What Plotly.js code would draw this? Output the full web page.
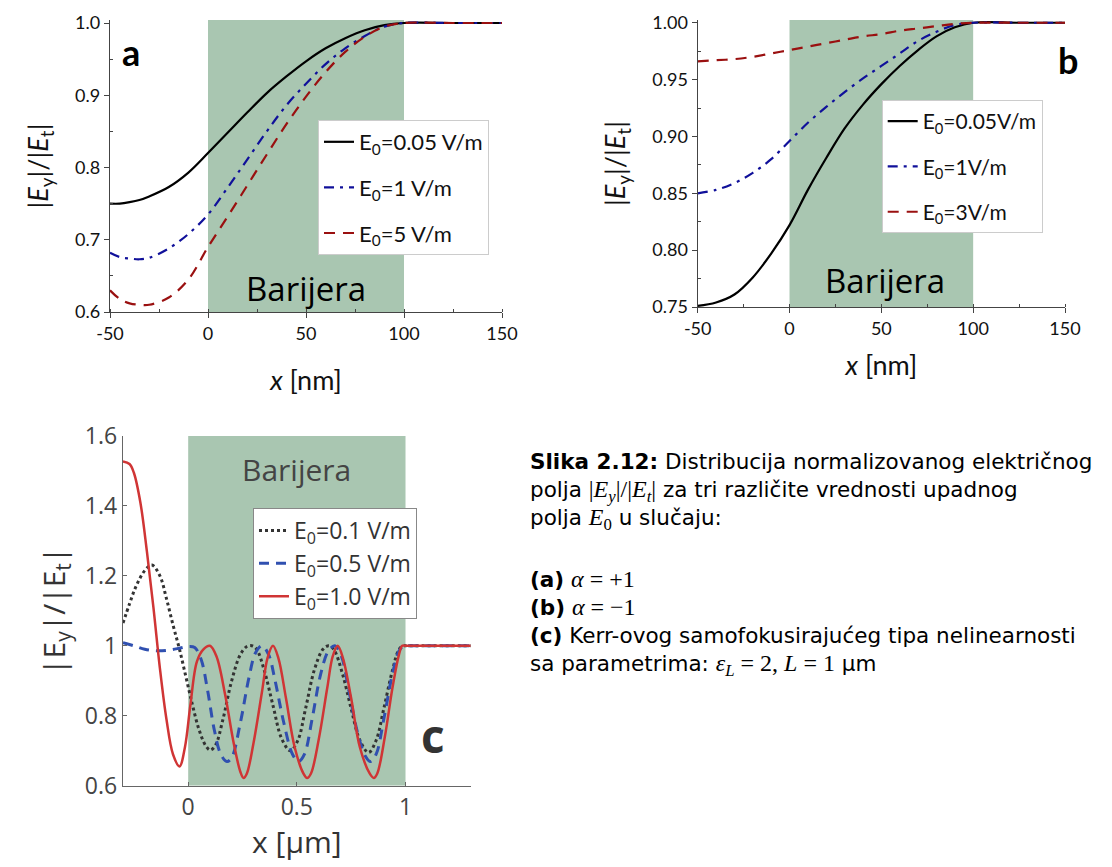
<!DOCTYPE html>
<html><head><meta charset="utf-8">
<script src="https://cdn.plot.ly/plotly-3.0.1.min.js"></script>
<style>html,body{margin:0;padding:0;background:#fff}</style>
</head><body><div id="chart" style="width:1112px;height:867px"></div>
<script>
// ---------- Panel a (alpha = +1) ----------
const xA = [-50,-45,-40,-35,-30,-20,-10,0,10,20,30,40,50,60,70,80,90,100,125,150];
const aBlack = [0.750,0.750,0.752,0.755,0.760,0.773,0.793,0.820,0.848,0.876,0.903,0.926,0.947,0.965,0.979,0.990,0.997,1.000,1.000,1.000];
const aBlue  = [0.682,0.676,0.674,0.673,0.675,0.688,0.708,0.735,0.772,0.811,0.850,0.886,0.916,0.943,0.965,0.982,0.995,1.000,1.000,1.000];
const aRed   = [0.630,0.618,0.612,0.610,0.610,0.620,0.645,0.690,0.732,0.775,0.818,0.860,0.898,0.932,0.960,0.981,0.995,1.000,1.000,1.000];
const aNames = ["E<sub>0</sub>=0.05 V/m","E<sub>0</sub>=1 V/m","E<sub>0</sub>=5 V/m"];

// ---------- Panel b (alpha = -1) ----------
const xB = [-50,-40,-30,-20,-10,0,10,20,30,40,50,60,70,80,90,100,125,150];
const bBlack = [0.751,0.754,0.761,0.776,0.797,0.822,0.853,0.881,0.907,0.928,0.946,0.962,0.976,0.988,0.996,1.000,1.000,1.000];
const bBlue  = [0.850,0.853,0.859,0.868,0.880,0.896,0.912,0.926,0.939,0.951,0.962,0.973,0.984,0.992,0.998,1.000,1.000,1.000];
const bRed   = [0.966,0.967,0.968,0.970,0.973,0.976,0.979,0.982,0.985,0.988,0.990,0.993,0.995,0.997,0.999,1.000,1.000,1.000];
const bNames = ["E<sub>0</sub>=0.05V/m","E<sub>0</sub>=1V/m","E<sub>0</sub>=3V/m"];

// ---------- Panel c (Kerr, eps_L = 2, L = 1 um) ----------
const xC1 = [-0.3,-0.27,-0.24,-0.2,-0.167,-0.13,-0.1,-0.07,-0.04,-0.01,0.02,0.05,0.08,0.101,0.125,0.16,0.2,0.24,0.27,0.293,0.315,0.35,0.39,0.43,0.47,0.505,0.54,0.58,0.62,0.647,0.67,0.71,0.75,0.79,0.83,0.865,0.9,0.94,0.97,0.99,1.0,1.3];
const cBlack = [1.065,1.12,1.17,1.215,1.231,1.2,1.135,1.06,0.99,0.91,0.83,0.76,0.715,0.702,0.715,0.79,0.9,0.975,0.998,1.0,0.99,0.93,0.83,0.735,0.70,0.73,0.82,0.93,0.99,1.0,0.99,0.92,0.82,0.73,0.695,0.73,0.82,0.93,0.99,1.0,1.0,1.0];
const xC2 = [-0.3,-0.25,-0.2,-0.15,-0.1,-0.05,0.0,0.03,0.06,0.09,0.12,0.15,0.178,0.2,0.24,0.28,0.31,0.34,0.37,0.4,0.44,0.48,0.508,0.535,0.57,0.61,0.645,0.675,0.705,0.74,0.78,0.815,0.839,0.865,0.9,0.94,0.97,0.99,1.0,1.3];
const cBlue = [1.009,1.0,0.99,0.986,0.987,0.992,0.998,0.995,0.96,0.87,0.76,0.69,0.669,0.68,0.78,0.91,0.98,1.0,0.975,0.9,0.78,0.69,0.669,0.69,0.79,0.92,0.985,1.0,0.97,0.87,0.75,0.685,0.669,0.69,0.79,0.92,0.985,1.0,1.0,1.0];
const xC3 = [-0.3,-0.27,-0.25,-0.22,-0.19,-0.16,-0.13,-0.1,-0.07,-0.04,-0.015,0.01,0.04,0.07,0.1,0.13,0.17,0.21,0.24,0.255,0.27,0.3,0.34,0.365,0.39,0.415,0.45,0.49,0.53,0.547,0.565,0.6,0.64,0.665,0.688,0.712,0.75,0.79,0.835,0.854,0.87,0.905,0.94,0.97,0.985,1.0,1.3];
const cRed = [1.527,1.52,1.495,1.41,1.27,1.11,0.935,0.79,0.69,0.655,0.71,0.83,0.955,0.99,1.0,0.97,0.86,0.72,0.64,0.622,0.635,0.72,0.87,0.965,1.0,0.965,0.85,0.71,0.635,0.622,0.635,0.73,0.88,0.97,1.0,0.965,0.85,0.71,0.635,0.622,0.635,0.74,0.88,0.975,1.0,1.0,1.0];
const cNames = ["E<sub>0</sub>=0.1 V/m","E<sub>0</sub>=0.5 V/m","E<sub>0</sub>=1.0 V/m"];

const M = s => "<span style=\"font-family:'Liberation Serif','DejaVu Serif',serif;font-size:24px\">" + s + "</span>";
const captionTop = [
  "<b>Slika 2.12:</b> Distribucija normalizovanog električnog",
  "polja " + M("|<i>E<sub>y</sub></i>|/|<i>E<sub>t</sub></i>|") + " za tri različite vrednosti upadnog",
  "polja " + M("<i>E</i><sub>0</sub>") + " u slučaju:"
];
const captionBottom = [
  "<b>(a)</b> " + M("<i>α</i> = +1"),
  "<b>(b)</b> " + M("<i>α</i> = −1"),
  "<b>(c)</b> Kerr-ovog samofokusirajućeg tipa nelinearnosti",
  "sa parametrima: " + M("<i>ε<sub>L</sub></i> = 2, <i>L</i> = 1") + " μm"
];

// ---------- helpers (pixel -> paper) ----------
const W = 1112, H = 867;
const px = v => v / W;
const py = v => 1 - v / H;
const FONT = "Lato, 'Open Sans', sans-serif";
const FONTO = "'Open Sans', 'Noto Sans', sans-serif";
const FONTCAP = "'DejaVu Sans', 'Open Sans', sans-serif";
const SHADE = "#a9c6b1";

function tr(x, y, name, color, dash, width, xa, ya, leg, grp) {
  return {x: x, y: y, name: name, type: "scatter", mode: "lines",
    line: {color: color, dash: dash, width: width, shape: "spline", smoothing: 1},
    xaxis: xa, yaxis: ya, legend: leg, legendgroup: grp, hoverinfo: "skip"};
}

const data = [
  tr(xA, aBlack, aNames[0], "#000000", "solid", 2.2, "x", "y", "legend", "a1"),
  tr(xA, aBlue,  aNames[1], "#10109a", "10px,6px,3px,6px", 2.2, "x", "y", "legend", "a2"),
  tr(xA, aRed,   aNames[2], "#9a1010", "11px,8px", 2.2, "x", "y", "legend", "a3"),
  tr(xB, bBlack, bNames[0], "#000000", "solid", 2.2, "x2", "y2", "legend2", "b1"),
  tr(xB, bBlue,  bNames[1], "#10109a", "10px,6px,3px,6px", 2.2, "x2", "y2", "legend2", "b2"),
  tr(xB, bRed,   bNames[2], "#9a1010", "11px,8px", 2.2, "x2", "y2", "legend2", "b3"),
  tr(xC1, cBlack, cNames[0], "#333333", "dot", 3, "x3", "y3", "legend3", "c1"),
  tr(xC2, cBlue,  cNames[1], "#3050b0", "10px,7px", 3, "x3", "y3", "legend3", "c2"),
  tr(xC3, cRed,   cNames[2], "#d03535", "solid", 2.5, "x3", "y3", "legend3", "c3")
];

const axAB = {showline: true, linecolor: "#444", linewidth: 1.2, showgrid: false, zeroline: false,
  ticks: "outside", ticklen: 5, tickcolor: "#444", tickfont: {family: FONT, size: 18, color: "#111"}};
const axC = {showline: true, linecolor: "#666", linewidth: 1.2, showgrid: false, zeroline: false,
  ticks: "inside", ticklen: 4, tickcolor: "#666", tickfont: {family: FONTO, size: 23, color: "#444"}};

const yTitleAB = "|<i>E</i><sub>y</sub>|/|<i>E</i><sub>t</sub>|";
const xTicksAB = ["-50", "0", "50", "100", "150"];

const legBase = {xanchor: "left", yanchor: "top", bgcolor: "#fff", borderwidth: 1,
  traceorder: "grouped", itemwidth: 30};

const layout = {
  width: W, height: H, margin: {l: 0, r: 0, t: 0, b: 0},
  paper_bgcolor: "#fff", plot_bgcolor: "rgba(0,0,0,0)",
  xaxis: Object.assign({}, axAB, {domain: [px(110), px(502)], range: [-50, 150], anchor: "y",
    tickvals: [-50, 0, 50, 100, 150], ticktext: xTicksAB, minor: {dtick: 25, ticks: "inside", ticklen: 3, tickcolor: "#444"},
    title: {text: "<i>x</i> [nm]", font: {family: FONT, size: 27, color: "#111"}, standoff: 28}}),
  yaxis: Object.assign({}, axAB, {domain: [py(312), py(20)], range: [0.6, 1.00415], anchor: "x",
    tickvals: [0.6, 0.7, 0.8, 0.9, 1.0], ticktext: ["0.6", "0.7", "0.8", "0.9", "1.0"],
    minor: {tickvals: [0.65, 0.75, 0.85, 0.95], ticks: "inside", ticklen: 3, tickcolor: "#444"},
    title: {text: yTitleAB, font: {family: FONT, size: 27, color: "#111"}, standoff: 18}}),
  xaxis2: Object.assign({}, axAB, {domain: [px(697.7), px(1065)], range: [-50, 150], anchor: "y2",
    tickvals: [-50, 0, 50, 100, 150], ticktext: xTicksAB, minor: {dtick: 25, ticks: "inside", ticklen: 3, tickcolor: "#444"},
    title: {text: "<i>x</i> [nm]", font: {family: FONT, size: 27, color: "#111"}, standoff: 18}}),
  yaxis2: Object.assign({}, axAB, {domain: [py(307), py(20)], range: [0.75, 1.0024], anchor: "x2",
    tickvals: [0.75, 0.80, 0.85, 0.90, 0.95, 1.00], ticktext: ["0.75", "0.80", "0.85", "0.90", "0.95", "1.00"],
    minor: {tickvals: [0.775, 0.825, 0.875, 0.925, 0.975], ticks: "inside", ticklen: 3, tickcolor: "#444"},
    title: {text: yTitleAB, font: {family: FONT, size: 27, color: "#111"}, standoff: 18}}),
  xaxis3: Object.assign({}, axC, {domain: [px(123), px(470.7)], range: [-0.3, 1.3], anchor: "y3",
    tickvals: [0, 0.5, 1], ticktext: ["0", "0.5", "1"],
    title: {text: "x [μm]", font: {family: FONTO, size: 30, color: "#333"}, standoff: 4}}),
  yaxis3: Object.assign({}, axC, {domain: [py(785.7), py(436)], range: [0.6, 1.6], anchor: "x3",
    tickvals: [0.6, 0.8, 1, 1.2, 1.4, 1.6], ticktext: ["0.6", "0.8", "1", "1.2", "1.4", "1.6"],
    title: {text: "|E<sub>y</sub>|/|E<sub>t</sub>|", font: {family: FONTO, size: 30, color: "#333"}, standoff: 10}}),
  legend: Object.assign({}, legBase, {x: px(318), y: py(120), bordercolor: "#ccc",
    font: {family: FONT, size: 22, color: "#111"}, tracegroupgap: 14}),
  legend2: Object.assign({}, legBase, {x: px(881.7), y: py(100), bordercolor: "#ccc",
    font: {family: FONT, size: 21, color: "#111"}, tracegroupgap: 15}),
  legend3: Object.assign({}, legBase, {x: px(253), y: py(508), bordercolor: "#888",
    font: {family: FONTO, size: 23, color: "#333"}, tracegroupgap: 0}),
  shapes: [
    {type: "rect", xref: "x", yref: "y", x0: 0, x1: 100, y0: 0.6, y1: 1.00415, fillcolor: SHADE, line: {width: 0}, layer: "below"},
    {type: "rect", xref: "x2", yref: "y2", x0: 0, x1: 100, y0: 0.75, y1: 1.0024, fillcolor: SHADE, line: {width: 0}, layer: "below"},
    {type: "rect", xref: "x3", yref: "y3", x0: 0, x1: 1, y0: 0.6, y1: 1.6, fillcolor: SHADE, line: {width: 0}, layer: "below"}
  ],
  annotations: [
    {text: "<b>a</b>", xref: "x", yref: "y", x: -39.5, y: 0.96, showarrow: false, font: {family: FONT, size: 36, color: "#000"}},
    {text: "<b>b</b>", xref: "paper", yref: "paper", x: px(1068), y: py(60), xanchor: "center", yanchor: "middle", showarrow: false, font: {family: FONT, size: 36, color: "#000"}},
    {text: "<b>c</b>", xref: "x3", yref: "y3", x: 1.125, y: 0.745, showarrow: false, font: {family: FONTO, size: 46, color: "#333"}},
    {text: "Barijera", xref: "x", yref: "y", x: 50, y: 0.633, showarrow: false, font: {family: FONTO, size: 33, color: "#000"}},
    {text: "Barijera", xref: "x2", yref: "y2", x: 52, y: 0.7735, showarrow: false, font: {family: FONTO, size: 33, color: "#000"}},
    {text: "Barijera", xref: "x3", yref: "y3", x: 0.5, y: 1.505, showarrow: false, font: {family: FONTO, size: 30, color: "#444"}},
    {text: captionTop.join("<br>"), xref: "paper", yref: "paper", x: px(528), y: py(447), xanchor: "left", yanchor: "top",
      showarrow: false, align: "left", font: {family: FONTCAP, size: 21.5, color: "#000"}},
    {text: captionBottom.join("<br>"), xref: "paper", yref: "paper", x: px(528), y: py(564), xanchor: "left", yanchor: "top",
      showarrow: false, align: "left", font: {family: FONTCAP, size: 21.5, color: "#000"}}
  ]
};

Plotly.newPlot("chart", data, layout, {displayModeBar: false, staticPlot: true});
</script></body></html>
